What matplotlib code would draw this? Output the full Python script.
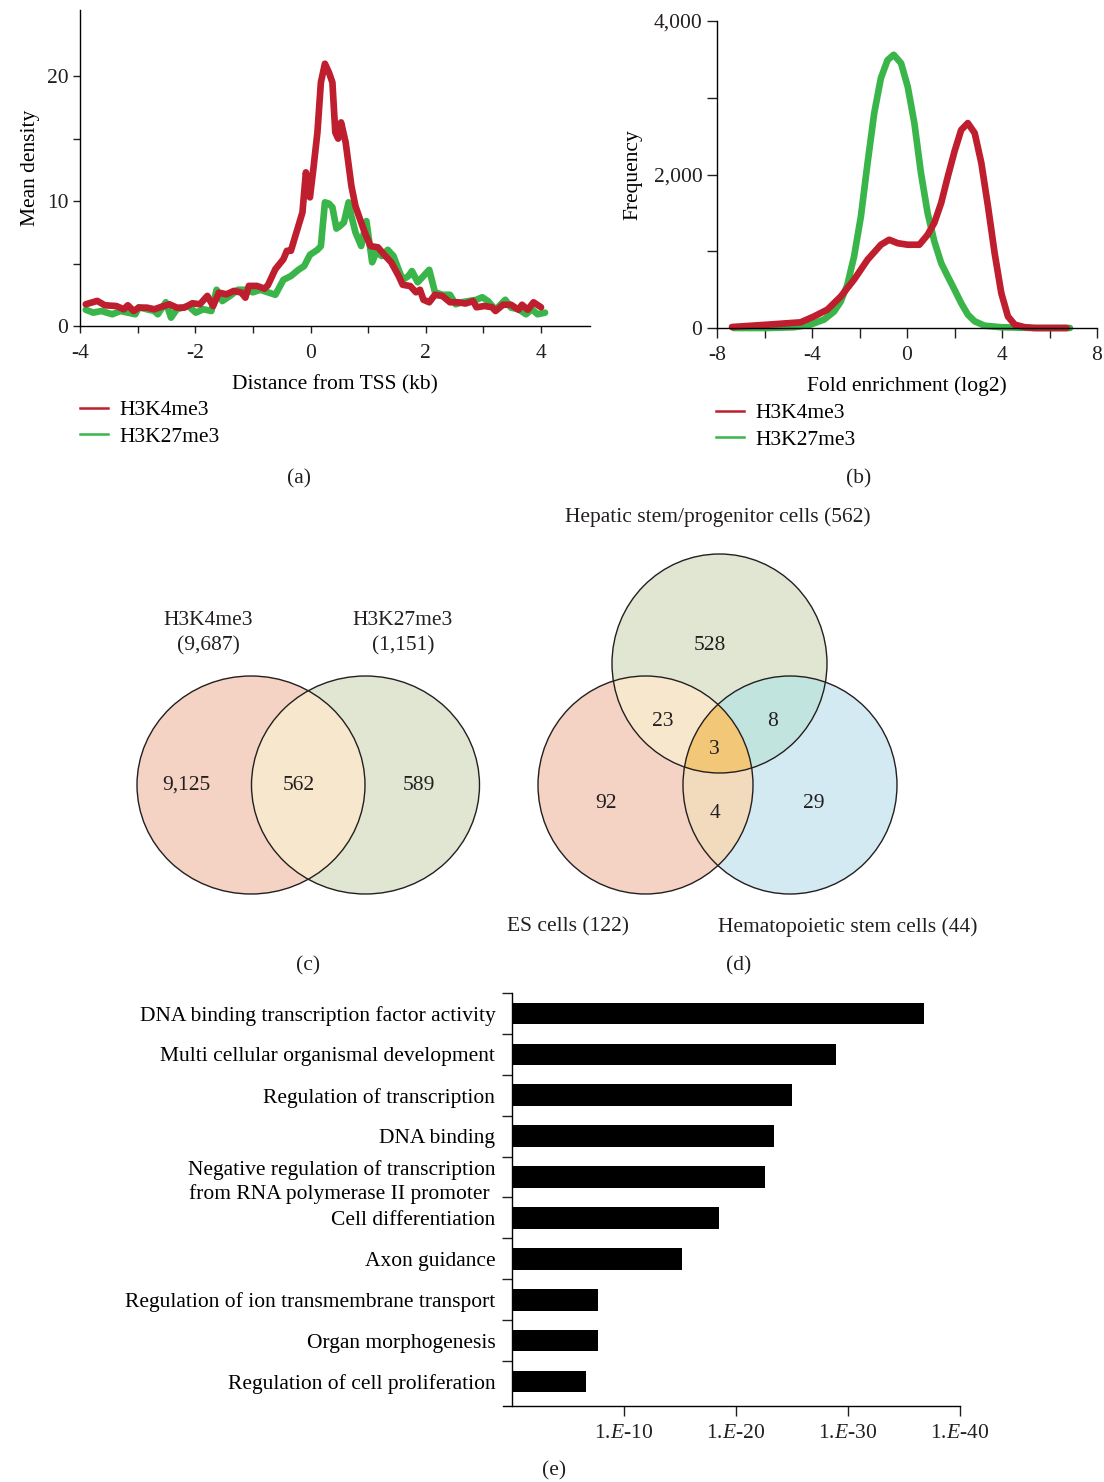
import numpy as np
import matplotlib
matplotlib.use("Agg")
import matplotlib.pyplot as plt
from matplotlib.patches import Ellipse, Polygon
from matplotlib.lines import Line2D

plt.rcParams['font.family'] = ['Liberation Serif', 'DejaVu Serif']
plt.rcParams['font.size'] = 15.5
plt.rcParams['axes.unicode_minus'] = False
plt.rcParams['mathtext.fontset'] = 'custom'
plt.rcParams['mathtext.rm'] = 'Liberation Serif'
plt.rcParams['mathtext.it'] = 'Liberation Serif:italic'
plt.rcParams['axes.linewidth'] = 1.0

RED = '#BE1E2D'
GREEN = '#39B54A'
INK = '#231F20'

# ---- (a) mean density around TSS ----
tss_k4_x = [-3.90, -3.70, -3.57, -3.37, -3.24, -3.17, -3.07, -2.98, -2.84, -2.71, -2.58, -2.45,
            -2.32, -2.19, -2.05, -1.92, -1.79, -1.69, -1.59, -1.46, -1.33, -1.20, -1.13, -1.07,
            -0.93, -0.80, -0.74, -0.61, -0.47, -0.41, -0.34, -0.28, -0.14, -0.08, -0.01, 0.05,
            0.12, 0.18, 0.25, 0.32, 0.38, 0.43, 0.48, 0.53, 0.61, 0.71, 0.78, 0.84, 0.94, 1.04,
            1.17, 1.30, 1.40, 1.53, 1.60, 1.73, 1.83, 1.90, 1.96, 2.06, 2.16, 2.29, 2.42, 2.55,
            2.69, 2.82, 2.88, 3.02, 3.15, 3.21, 3.34, 3.48, 3.61, 3.67, 3.77, 3.87, 4.00]
tss_k4_y = [1.74, 2.01, 1.66, 1.60, 1.34, 1.66, 1.20, 1.47, 1.47, 1.34, 1.55, 1.74,
            1.47, 1.47, 1.82, 1.74, 2.41, 1.60, 2.67, 2.54, 2.81, 2.67, 2.27, 3.21,
            3.21, 2.99, 3.26, 4.55, 5.35, 6.02, 6.02, 6.95, 9.09, 12.3, 10.3, 12.6,
            15.5, 19.5, 21.0, 20.3, 19.5, 15.5, 15.0, 16.3, 14.7, 11.2, 9.6, 8.8, 7.5, 6.4,
            6.3, 5.6, 5.1, 4.0, 3.3, 3.2, 2.7, 2.9, 2.1, 1.9, 2.5, 2.4, 1.9, 1.9,
            1.8, 2.0, 1.5, 1.6, 1.5, 1.2, 1.7, 1.7, 1.3, 1.7, 1.3, 1.9, 1.5]

tss_k27_x = [-3.90, -3.77, -3.63, -3.44, -3.30, -3.17, -3.04, -2.98, -2.84, -2.71, -2.65, -2.51,
             -2.42, -2.32, -2.12, -1.99, -1.86, -1.72, -1.63, -1.53, -1.40, -1.26, -1.13, -1.00,
             -0.87, -0.74, -0.61, -0.47, -0.34, -0.21, -0.11, -0.01, 0.12, 0.18, 0.25, 0.32,
             0.38, 0.45, 0.51, 0.58, 0.66, 0.71, 0.78, 0.88, 0.97, 1.07, 1.14, 1.24, 1.34,
             1.44, 1.53, 1.60, 1.70, 1.76, 1.86, 1.96, 2.06, 2.16, 2.29, 2.42, 2.52, 2.62,
             2.75, 2.88, 2.98, 3.08, 3.21, 3.38, 3.48, 3.61, 3.74, 3.84, 3.94, 4.07]
tss_k27_y = [1.3, 1.07, 1.2, 0.94, 1.2, 1.07, 0.94, 1.5, 1.34, 1.2, 0.94, 1.9,
             0.67, 1.34, 1.6, 1.07, 1.34, 1.2, 2.9, 2.0, 2.4, 2.9, 2.9, 2.7,
             2.9, 2.7, 2.5, 3.7, 4.0, 4.5, 4.8, 5.7, 6.1, 6.4, 9.9, 9.8,
             9.5, 7.8, 8.0, 8.3, 9.9, 8.8, 7.5, 6.4, 8.4, 5.1, 5.9, 5.6, 6.1,
             5.6, 4.5, 3.7, 4.0, 4.4, 3.5, 4.0, 4.5, 2.7, 2.5, 2.5, 1.74, 1.9,
             2.0, 2.1, 2.3, 2.0, 1.3, 2.1, 1.47, 1.34, 0.94, 1.34, 0.94, 1.07]

# ---- (b) fold enrichment distribution ----
fe_k27_x = [-7.3, -5.89, -4.76, -4.06, -3.49, -3.07, -2.79, -2.51, -2.23, -1.94, -1.66, -1.38,
            -1.10, -0.82, -0.56, -0.25, 0.03, 0.31, 0.59, 0.87, 1.15, 1.44, 1.72, 2.0, 2.28,
            2.56, 2.85, 3.27, 3.97, 5.38, 6.86]
fe_k27_y = [0, 0, 10, 45, 110, 215, 345, 565, 930, 1455, 2150, 2800,
            3255, 3490, 3560, 3450, 3145, 2670, 2015, 1495, 1130, 845, 670, 500, 325,
            175, 87, 30, 10, 0, 0]
fe_k4_x = [-7.37, -5.89, -4.48, -3.92, -3.35, -2.79, -2.23, -1.66, -1.10, -0.75, -0.39, 0.03,
           0.52, 0.87, 1.15, 1.44, 1.72, 2.0, 2.28, 2.56, 2.85, 3.13, 3.41, 3.69, 3.97,
           4.25, 4.54, 4.96, 5.38, 6.72]
fe_k4_y = [13, 43, 74, 150, 240, 410, 630, 890, 1085, 1150, 1105, 1085,
           1085, 1215, 1370, 1630, 1975, 2300, 2580, 2670, 2540, 2150, 1585, 975, 455,
           150, 43, 10, 0, 0]

# ---- (c) two-set Venn ----
venn2_titles = ['H3K4me3\n(9,687)', 'H3K27me3\n(1,151)']
venn2_counts = ['9,125', '562', '589']      # only K4, both, only K27

# ---- (d) three-set Venn ----
venn3_titles = ['Hepatic stem/progenitor cells (562)', 'ES cells (122)',
                'Hematopoietic stem cells (44)']
venn3_counts = ['528', '92', '29', '23', '8', '4', '3']   # H, E, S, HE, HS, ES, HES

# ---- (e) GO terms ----
go_terms = ['DNA binding transcription factor activity',
            'Multi cellular organismal development',
            'Regulation of transcription',
            'DNA binding',
            'Negative regulation of transcription\nfrom RNA polymerase II promoter ',
            'Cell differentiation',
            'Axon guidance',
            'Regulation of ion transmembrane transport',
            'Organ morphogenesis',
            'Regulation of cell proliferation']
go_neglog10p = [36.8, 28.9, 25.0, 23.4, 22.6, 18.5, 15.2, 7.7, 7.7, 6.6]
go_xticks = [10, 20, 30, 40]

W, H = 1104, 1482
fig = plt.figure(figsize=(W / 100, H / 100), dpi=100)


def box(l, t, r, b):
    return [l / W, 1 - b / H, (r - l) / W, (b - t) / H]


def fpos(x, y):
    return x / W, 1 - y / H


# panel a
ax = fig.add_axes(box(80, 10, 590, 326))
ax.plot(tss_k27_x, tss_k27_y, color=GREEN, lw=4.8, solid_joinstyle='round', solid_capstyle='round')
ax.plot(tss_k4_x, tss_k4_y, color=RED, lw=4.8, solid_joinstyle='round', solid_capstyle='round')
ax.set_xlim(-4, 4.85)
ax.set_ylim(0, 25.3)
ax.spines[['top', 'right']].set_visible(False)
ax.set_xticks(range(-4, 5))
ax.set_xticklabels([str(v) if v % 2 == 0 else '' for v in range(-4, 5)])
ax.set_yticks([0, 5, 10, 15, 20])
ax.set_yticklabels(['0', '', '10', '', '20'])
ax.tick_params(direction='out', length=5, width=1, colors=INK)
ax.tick_params(axis='x', pad=8)
ax.set_xlabel('Distance from TSS (kb)', labelpad=9)
ax.set_ylabel('Mean density', labelpad=5)
fig.legend([Line2D([], [], color=RED, lw=1.8), Line2D([], [], color=GREEN, lw=1.8)],
           ['H3K4me3', 'H3K27me3'], loc='upper left', bbox_to_anchor=fpos(80, 400),
           frameon=False, borderpad=0, borderaxespad=0, handlelength=1.3,
           handletextpad=0.55, labelspacing=0.3)

# panel b
bx = fig.add_axes(box(717, 21, 1097, 328))
bx.plot(fe_k27_x, fe_k27_y, color=GREEN, lw=4.8, solid_joinstyle='round',
        solid_capstyle='round', clip_on=False)
bx.plot(fe_k4_x, fe_k4_y, color=RED, lw=4.8, solid_joinstyle='round',
        solid_capstyle='round', clip_on=False)
bx.set_xlim(-8, 8)
bx.set_ylim(0, 4000)
bx.spines[['top', 'right']].set_visible(False)
bx.set_xticks(range(-8, 9, 2))
bx.set_xticklabels([str(v) if v % 4 == 0 else '' for v in range(-8, 9, 2)])
bx.set_yticks(range(0, 4001, 1000))
bx.set_yticklabels([f'{v:,}' if v % 2000 == 0 else '' for v in range(0, 4001, 1000)])
bx.tick_params(direction='out', length=7, width=1, colors=INK)
bx.tick_params(axis='x', pad=6)
bx.set_xlabel('Fold enrichment (log2)', labelpad=8)
bx.set_ylabel('Frequency', labelpad=8)
fig.legend([Line2D([], [], color=RED, lw=1.8), Line2D([], [], color=GREEN, lw=1.8)],
           ['H3K4me3', 'H3K27me3'], loc='upper left', bbox_to_anchor=fpos(716, 403),
           frameon=False, borderpad=0, borderaxespad=0, handlelength=1.3,
           handletextpad=0.55, labelspacing=0.3)

# overlay in pixel coordinates for the Venn diagrams
ov = fig.add_axes([0, 0, 1, 1], zorder=-1)
ov.set_xlim(0, W)
ov.set_ylim(H, 0)
ov.axis('off')


def ell_pts(e, n=900):
    cx, cy, w, h = e
    t = np.linspace(0, 2 * np.pi, n, endpoint=False)
    return np.c_[cx + w / 2 * np.cos(t), cy + h / 2 * np.sin(t)]


def inside(p, e):
    cx, cy, w, h = e
    return ((p[:, 0] - cx) / (w / 2)) ** 2 + ((p[:, 1] - cy) / (h / 2)) ** 2 <= 1.0


def region(ells):
    pts = []
    for i, e in enumerate(ells):
        p = ell_pts(e)
        m = np.ones(len(p), bool)
        for j, o in enumerate(ells):
            if j != i:
                m &= inside(p, o)
        pts.append(p[m])
    pts = np.vstack(pts)
    c = pts.mean(0)
    return pts[np.argsort(np.arctan2(pts[:, 1] - c[1], pts[:, 0] - c[0]))]


def draw_venn(ells, fills, overlaps):
    for e, col in zip(ells, fills):
        ov.add_patch(Ellipse(e[:2], e[2], e[3], fc=col, ec='none'))
    for idx, col in overlaps:
        ov.add_patch(Polygon(region([ells[i] for i in idx]), closed=True, fc=col, ec='none'))
    for e in ells:
        ov.add_patch(Ellipse(e[:2], e[2], e[3], fc='none', ec=INK, lw=1.0))


# panel c
c_ells = [(251, 785, 228, 218), (365.5, 785, 228, 218)]
draw_venn(c_ells, ['#F4D3C4', '#E0E6D2'], [((0, 1), '#F7E8CD')])
for (x, y), s in zip([(208, 633), (403, 633)], venn2_titles):
    ov.text(x, y, s, ha='center', va='center', linespacing=1.45, color=INK)
for (x, y), s in zip([(186, 785), (299, 785), (419, 785)], venn2_counts):
    ov.text(x, y, s, ha='center', va='center', color=INK)

# panel d
d_ells = [(719.5, 663.5, 215, 219), (645.5, 785, 215, 218), (790, 785, 214, 218)]
draw_venn(d_ells, ['#E0E6D2', '#F4D3C4', '#D4EAF2'],
          [((0, 1), '#F7E8CD'), ((0, 2), '#C2E4DE'), ((1, 2), '#F2DABC'),
           ((0, 1, 2), '#F2C878')])
ov.text(718, 517, venn3_titles[0], ha='center', va='center', color=INK)
ov.text(507, 927, venn3_titles[1], ha='left', va='center', color=INK)
ov.text(718, 927, venn3_titles[2], ha='left', va='center', color=INK)
d_pos = [(710, 646), (606, 803), (814, 803), (663, 722), (773, 721), (715, 813), (714, 750)]
for (x, y), s in zip(d_pos, venn3_counts):
    ov.text(x, y, s, ha='center', va='center', color=INK)

# panel e
ex = fig.add_axes(box(503, 993, 960, 1406))
ypos = np.arange(len(go_terms))
ex.barh(ypos, go_neglog10p, height=0.53, color='black')
ex.set_xlim(-0.8, 40)
ex.set_ylim(9.6, -0.5)
ex.spines[['top', 'right']].set_visible(False)
ex.spines['left'].set_position(('data', 0))
ex.set_yticks(np.arange(-0.5, 9.0, 1.0))
ex.set_yticklabels([])
ex.set_yticks(ypos, minor=True)
ex.set_yticklabels(go_terms, minor=True)
for lab in ex.get_yticklabels(minor=True):
    lab.set_linespacing(1.3)
ex.tick_params(axis='y', which='major', direction='out', length=7, width=1, colors=INK)
ex.tick_params(axis='y', which='minor', length=0, pad=12)
ex.set_xticks(go_xticks)
ex.set_xticklabels([f'1.$E$-{t}' for t in go_xticks])
ex.tick_params(axis='x', direction='out', length=7, width=1, pad=6, colors=INK)

for lab, (x, y) in zip(['(a)', '(b)', '(c)', '(d)', '(e)'],
                       [(299, 479), (859, 479), (308, 966), (739, 966), (554, 1471)]):
    fig.text(*fpos(x, y), lab, ha='center', va='center', color=INK)

fig.savefig('out.png', dpi=100)
